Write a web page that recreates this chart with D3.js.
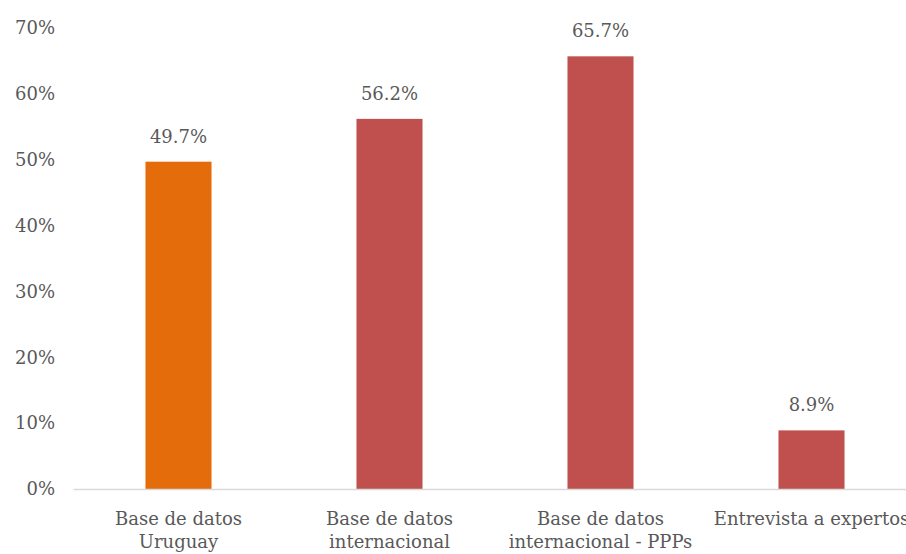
<!DOCTYPE html>
<html>
<head>
<meta charset="utf-8">
<script src="https://cdn.jsdelivr.net/npm/d3@7"></script>
<style>
  html, body { margin: 0; padding: 0; background: #fff; overflow: hidden; }
</style>
</head>
<body>
<svg id="chart" width="906" height="554"></svg>
<script>
// Chart data
const categories = [
  'Base de datos|Uruguay',
  'Base de datos|internacional',
  'Base de datos|internacional - PPPs',
  'Entrevista a expertos'
];
const values = [49.7, 56.2, 65.7, 8.9];
const barColors = ['#e46c0a', '#c0504d', '#c0504d', '#c0504d'];
const yTicks = [0, 10, 20, 30, 40, 50, 60, 70];

const FONT = "'DejaVu Serif', serif";
const TEXT_COLOR = '#595959';

const margin = {top: 28, right: 0, bottom: 65, left: 73};
const plotWidth = 844;
const plotHeight = 554 - margin.top - margin.bottom;

const svg = d3.select('#chart');
const g = svg.append('g')
    .attr('transform', 'translate(' + margin.left + ',' + margin.top + ')');

const x = d3.scaleBand()
    .domain(categories)
    .range([0, plotWidth])
    .paddingInner(0.687)
    .paddingOuter(0.3435);

const y = d3.scaleLinear().domain([0, 70]).range([plotHeight, 0]);

// y-axis labels only, no line
const yAxis = g.append('g')
    .call(d3.axisLeft(y)
        .tickValues(yTicks)
        .tickSize(0)
        .tickPadding(18)
        .tickFormat(d => d + '%'));
yAxis.attr('font-family', FONT).attr('font-size', 18);
yAxis.select('.domain').remove();
yAxis.selectAll('text').attr('fill', TEXT_COLOR);

// bars
g.selectAll('rect.bar')
    .data(values)
    .join('rect')
    .attr('class', 'bar')
    .attr('x', (d, i) => x(categories[i]))
    .attr('width', x.bandwidth())
    .attr('y', d => y(d))
    .attr('height', d => y(0) - y(d))
    .attr('fill', (d, i) => barColors[i]);

// value labels
g.selectAll('text.value')
    .data(values)
    .join('text')
    .attr('class', 'value')
    .attr('x', (d, i) => x(categories[i]) + x.bandwidth() / 2)
    .attr('y', d => y(d) - 19)
    .attr('text-anchor', 'middle')
    .attr('font-family', FONT)
    .attr('font-size', 18)
    .attr('fill', TEXT_COLOR)
    .text(d => d.toFixed(1) + '%');

// x-axis with wrapped labels
const xAxis = g.append('g')
    .attr('transform', 'translate(0,' + plotHeight + ')')
    .call(d3.axisBottom(x).tickSize(0).tickSizeOuter(0).tickFormat(''));
xAxis.attr('font-family', FONT).attr('font-size', 18);
xAxis.select('.domain')
    .attr('stroke', '#d9d9d9')
    .attr('stroke-width', 1.5);
xAxis.selectAll('.tick text').remove();
xAxis.selectAll('.tick').each(function(d) {
  const t = d3.select(this).append('text')
      .attr('text-anchor', 'middle')
      .attr('fill', TEXT_COLOR);
  d.split('|').forEach((line, i) => {
    t.append('tspan')
        .attr('x', 0)
        .attr('y', 36 + i * 23)
        .text(line);
  });
});
</script>
</body>
</html>
